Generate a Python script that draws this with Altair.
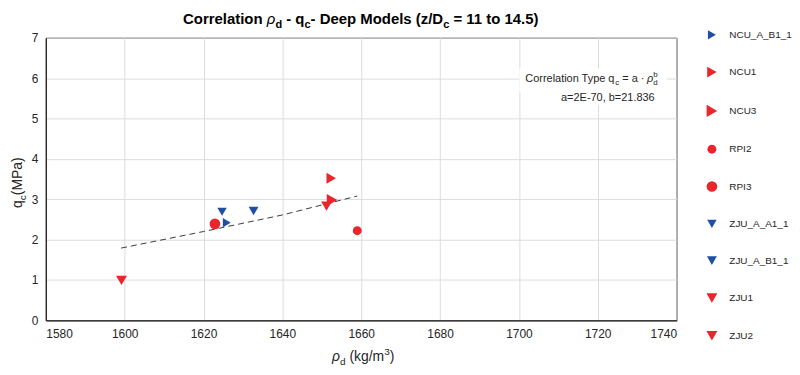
import altair as alt
import pandas as pd

# ---------------- data ----------------
series = ["NCU_A_B1_1", "NCU1", "NCU3", "RPI2", "RPI3",
          "ZJU_A_A1_1", "ZJU_A_B1_1", "ZJU1", "ZJU2"]
rho_d = [1625.9, 1652.4, 1652.6, 1659.0, 1622.9, 1624.7, 1632.7, 1651.2, 1599.2]
q_c = [2.42, 3.52, 2.98, 2.22, 2.39, 2.69, 2.71, 2.83, 0.99]
colors = ["#1e4fa3", "#e8262b", "#e8262b", "#e8262b", "#e8262b",
          "#1e4fa3", "#1e4fa3", "#e8262b", "#e8262b"]
shapes = ["triangle-right", "triangle-right", "triangle-right", "circle", "circle",
          "triangle-down", "triangle-down", "triangle-down", "triangle-down"]
sizes = [85, 120, 150, 80, 115, 90, 100, 120, 120]

fit_rho = [1599.1, 1620.0, 1640.0, 1659.0]
fit_q = [1.79, 2.20, 2.61, 3.08]

x_ticks = [1580, 1600, 1620, 1640, 1660, 1680, 1700, 1720, 1740]
y_ticks = [0, 1, 2, 3, 4, 5, 6, 7]

pts = pd.DataFrame({"rho": rho_d, "q": q_c, "series": series})
fit = pd.DataFrame({"rho": fit_rho, "q": fit_q})

W, H = 634, 284
FONT = "Liberation Sans"

# ---------------- text width helper (Arial metrics) ----------------
REG = {" ": 278, "(": 333, ")": 333, "-": 333, ".": 278, ",": 278, "/": 278, "=": 584,
       "·": 278, "A": 667, "B": 667, "C": 722, "D": 722, "E": 667, "M": 833, "P": 667,
       "T": 611, "a": 556, "b": 556, "c": 500, "d": 556, "e": 556, "g": 556, "i": 222,
       "k": 500, "l": 222, "m": 833, "n": 556, "o": 556, "p": 556, "q": 556, "r": 333,
       "s": 500, "t": 278, "y": 500, "z": 500, "ρ": 575}
BOLD = {" ": 278, "(": 333, ")": 333, "-": 333, ".": 278, "/": 278, "=": 584,
        "C": 722, "D": 722, "M": 833, "a": 556, "c": 556, "d": 611, "e": 556, "i": 278,
        "l": 278, "n": 611, "o": 611, "p": 611, "q": 611, "r": 389, "s": 556, "t": 333,
        "z": 500, "ρ": 600}


def tw(s, size, bold=False):
    tab = BOLD if bold else REG
    return sum(tab.get(ch, 556) for ch in s) * size / 1000.0


def text_layer(txt, x, y, size, bold=False, italic=False, angle=0, color="#262626"):
    kw = dict(align="left", baseline="alphabetic", fontSize=size, font=FONT,
              fontWeight="bold" if bold else "normal",
              fontStyle="italic" if italic else "normal", color=color)
    if angle:
        kw["angle"] = angle
    return alt.Chart(pd.DataFrame({"t": [txt]})).mark_text(**kw).encode(
        x=alt.value(x), y=alt.value(y), text="t:N")


def run_layers(pieces, x0, y0, color="#262626"):
    """pieces: (text, size, bold, italic, dy, advance)"""
    layers = []
    cur = x0
    for txt, size, bold, italic, dy, adv in pieces:
        lead = len(txt) - len(txt.lstrip(" "))
        xs = cur + tw(" " * lead, size, bold)
        layers.append(text_layer(txt.strip(" "), xs, y0 + dy, size, bold, italic, color=color))
        if adv:
            cur += tw(txt, size, bold)
    return layers, cur


# ---------------- title ----------------
title_pieces = [
    ("Correlation ", 15, True, False, 0, True),
    ("ρ", 15, False, True, 0, True),
    ("d", 11, True, False, 4, True),
    (" - q", 15, True, False, 0, True),
    ("c", 11, True, False, 4, True),
    ("- Deep Models (z/D", 15, True, False, 0, True),
    ("c", 11, True, False, 4, True),
    (" = 11 to 14.5)", 15, True, False, 0, True),
]
total = sum(tw(p[0], p[1], p[2]) for p in title_pieces)
title_layers, _ = run_layers(title_pieces, 317 - total / 2, -13.5, color="#000000")

# ---------------- x-axis title ----------------
xt_pieces = [
    ("ρ", 14, False, True, 0, True),
    ("d", 10, False, False, 4, True),
    (" (kg/m", 14, False, False, 0, True),
    ("3", 10, False, False, -6, True),
    (")", 14, False, False, 0, True),
]
xt_total = sum(tw(p[0], p[1], p[2]) for p in xt_pieces)
xt_layers, _ = run_layers(xt_pieces, 317 - xt_total / 2 + 2, 325)

# ---------------- y-axis title (rotated) ----------------
yb = 171.0
yt_layers = []
yt_layers.append(text_layer("q", -24, yb, 14, angle=270))
yb -= tw("q", 14)
yt_layers.append(text_layer("c", -20, yb, 10, angle=270))
yb -= tw("c", 10)
yt_layers.append(text_layer("(MPa)", -24, yb, 14, angle=270))

# ---------------- annotation ----------------
ann_pieces = [
    ("Correlation Type q", 11, False, False, 0, True),
    ("c", 8, False, False, 3, True),
    (" = a · ", 11, False, False, 0, True),
    ("ρ", 11, False, True, 0, True),
    ("d", 8, False, False, 3, False),
    ("b", 8, False, False, -5, True),
]
ann_total = sum(tw(p[0], p[1], p[2]) for p in ann_pieces if p[5])
ann_layers, _ = run_layers(ann_pieces, 615 - ann_total, 44, color="#262626")
ann2 = alt.Chart(pd.DataFrame({"t": ["a=2E-70, b=21.836"]})).mark_text(
    align="right", baseline="alphabetic", fontSize=11, font=FONT, color="#262626"
).encode(x=alt.value(612), y=alt.value(64), text="t:N")

box1 = alt.Chart(pd.DataFrame({"k": [0]})).mark_rect(color="white").encode(
    x=alt.value(476), x2=alt.value(624), y=alt.value(31), y2=alt.value(55))
box2 = alt.Chart(pd.DataFrame({"k": [0]})).mark_rect(color="white").encode(
    x=alt.value(511), x2=alt.value(618), y=alt.value(54), y2=alt.value(68))

# ---------------- main layers ----------------
xscale = alt.Scale(domain=[1580, 1740], nice=False, zero=False)
yscale = alt.Scale(domain=[0, 7], nice=False)

line = alt.Chart(fit).mark_line(color="#3a3a3a", strokeWidth=1, strokeDash=[6, 4]).encode(
    x=alt.X("rho:Q", scale=xscale,
            axis=alt.Axis(title="", values=x_ticks, grid=True, gridColor="#dcdcdc",
                          domainColor="black", ticks=False, labelPadding=8,
                          labelFontSize=12, labelFont=FONT, labelColor="#262626",
                          format="d")),
    y=alt.Y("q:Q", scale=yscale,
            axis=alt.Axis(title="", values=y_ticks, grid=True, gridColor="#dcdcdc",
                          domainColor="black", ticks=False, labelPadding=8,
                          labelFontSize=12, labelFont=FONT, labelColor="#262626")),
)

points = alt.Chart(pts).mark_point(filled=True, opacity=1).encode(
    x=alt.X("rho:Q", scale=xscale),
    y=alt.Y("q:Q", scale=yscale),
    color=alt.Color("series:N", scale=alt.Scale(domain=series, range=colors),
                    legend=alt.Legend(title="", orient="none", legendX=663, legendY=-8,
                                      rowPadding=27, labelOffset=11, labelFontSize=10,
                                      labelFont=FONT, labelColor="#262626", padding=0,
                                      labelLimit=200, symbolStrokeWidth=0)),
    shape=alt.Shape("series:N", scale=alt.Scale(domain=series, range=shapes)),
    size=alt.Size("series:N", scale=alt.Scale(type="ordinal", domain=series, range=sizes)),
)

chart = alt.layer(
    line, box1, box2, points, ann2, *ann_layers, *title_layers, *xt_layers, *yt_layers
).properties(
    width=W, height=H,
    autosize=alt.AutoSizeParams(type="none"),
    padding={"left": 38, "top": 29, "right": 116, "bottom": 50},
).configure_view(stroke="black", strokeWidth=1)

chart.save("out.html", embed_options={"renderer": "svg", "actions": False})
